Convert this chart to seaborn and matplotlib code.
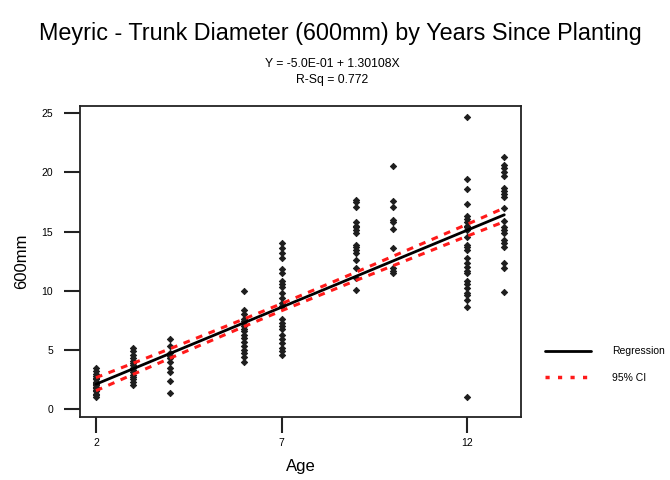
import numpy as np
import pandas as pd
import matplotlib
matplotlib.use("Agg")
import matplotlib.pyplot as plt
import seaborn as sns
from matplotlib.lines import Line2D

sns.set_style("white")
plt.rcParams['font.family'] = ['Liberation Sans', 'DejaVu Sans']
plt.rcParams['text.color'] = 'black'
plt.rcParams['axes.labelcolor'] = 'black'

# ---- data ----
age2 = [1.0, 1.2, 1.3, 1.5, 1.6, 1.8, 1.9, 2.0, 2.1, 2.2, 2.3, 2.5, 2.6, 2.8, 3.0, 3.2, 3.5]
age3 = [2.0, 2.3, 2.5, 2.7, 2.9, 3.1, 3.3, 3.5, 3.7, 3.9, 4.1, 4.3, 4.6, 4.9, 5.2]
age4 = [5.9, 5.3, 4.7, 4.5, 4.3, 4.0, 3.5, 3.1, 2.4, 1.4]
age6 = [10.0, 8.4, 8.0, 7.6, 7.4, 7.2, 7.0, 6.8, 6.6, 6.3, 6.0, 5.7, 5.3, 5.0, 4.7, 4.4, 4.0]
age7 = [14.0, 13.6, 13.2, 12.8, 11.8, 11.5, 10.8, 10.6, 10.3, 9.8, 9.4, 9.0, 8.7,
        7.6, 7.3, 7.0, 6.8, 6.3, 5.9, 5.6, 5.2, 4.9, 4.6]
age9 = [17.7, 17.5, 17.1, 15.8, 15.5, 15.4, 15.1, 14.9, 13.9, 13.7, 13.4, 13.2, 12.6, 11.9, 11.1, 10.1]
age10 = [20.5, 17.6, 17.1, 16.0, 15.8, 15.2, 13.6, 11.9, 11.7, 11.5]
age12 = [24.7, 19.4, 18.6, 17.3, 16.3, 16.1, 15.8, 15.5, 15.4, 15.1, 14.5, 13.9, 13.7, 13.4,
         12.8, 12.3, 12.0, 11.7, 11.5, 10.8, 10.6, 10.2, 9.8, 9.6, 9.2, 8.6, 1.0]
age13 = [21.3, 20.6, 20.4, 20.0, 19.7, 18.7, 18.4, 18.2, 17.9, 17.0, 15.9, 15.4, 15.1,
         14.9, 14.3, 14.0, 13.7, 12.3, 11.9, 9.9]
ages = [2, 3, 4, 6, 7, 9, 10, 12, 13]
intercept = -0.50
slope = 1.30108
# 95% CI half-width read at each age
ci_half = [0.55, 0.47, 0.40, 0.32, 0.30, 0.35, 0.40, 0.50, 0.58]

title = "Meyric - Trunk Diameter (600mm) by Years Since Planting"
eq_text = "Y = -5.0E-01 + 1.30108X\nR-Sq = 0.772"
x_ticks = [2, 7, 12]
y_ticks = [0, 5, 10, 15, 20, 25]

cols = [age2, age3, age4, age6, age7, age9, age10, age12, age13]
df = pd.DataFrame({
    "Age": np.concatenate([[a] * len(c) for a, c in zip(ages, cols)]),
    "600mm": np.concatenate(cols),
})

ages_arr = np.array(ages, dtype=float)
fitv = intercept + slope * ages_arr
fit = pd.DataFrame({"Age": ages_arr, "fit": fitv,
                    "lo": fitv - np.array(ci_half), "hi": fitv + np.array(ci_half)})

fig = plt.figure(figsize=(6.7, 4.8), dpi=100)
ax = fig.add_axes([0.1194, 0.131, 0.6582, 0.648])

sns.scatterplot(data=df, x="Age", y="600mm", ax=ax, color="#1e1e1e", marker="D",
                s=10, linewidth=0.7, edgecolor="#1e1e1e", legend=False, zorder=2)
sns.lineplot(data=fit, x="Age", y="fit", ax=ax, color="black", lw=2.0, zorder=3)
for col in ["lo", "hi"]:
    sns.lineplot(data=fit, x="Age", y=col, ax=ax, color="#ff1a1a", lw=2.2,
                 linestyle=(0, (2.2, 2.2)), zorder=4)

ax.set_xlim(1.57, 13.45)
ax.set_ylim(-0.68, 25.6)
ax.set_xticks(x_ticks)
ax.set_yticks(y_ticks)
ax.tick_params(axis="both", which="major", bottom=True, left=True, direction="out",
               length=11.5, width=1.5, labelsize=7.5, color="#222222", labelcolor="black")
ax.tick_params(axis="y", pad=8)
ax.tick_params(axis="x", pad=3.5)
for sp in ax.spines.values():
    sp.set_visible(True)
    sp.set_linewidth(1.3)
    sp.set_color("#222222")
ax.set_xlabel("Age", fontsize=12, labelpad=8)
ax.set_ylabel("600mm", fontsize=12, labelpad=9)

fig.text(0.508, 0.93, title, ha="center", va="center", fontsize=16.8)
fig.text(0.496, 0.85, eq_text, ha="center", va="center", fontsize=8.8, linespacing=1.45)

handles = [Line2D([], [], color="black", lw=2.0),
           Line2D([], [], color="#ff1a1a", lw=2.5, linestyle=(0, (1.2, 2.4)))]
fig.legend(handles, ["Regression", "95% CI"], loc="center left",
           bbox_to_anchor=(0.80, 0.24), frameon=False, fontsize=7.5,
           handlelength=4.4, handletextpad=2.0, labelspacing=1.6)

fig.savefig("out.png", dpi=100)
